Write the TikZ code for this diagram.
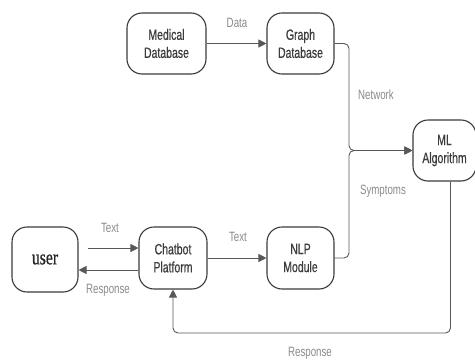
\documentclass[tikz,border=0pt]{standalone}
\usepackage{fontspec}
\usetikzlibrary{arrows.meta,calc}
\newfontfamily\nodefont[FakeStretch=0.70,FakeBold=0.6]{Liberation Sans}
\newfontfamily\labfont[FakeStretch=0.72]{Liberation Sans}
\newfontfamily\userfont[FakeStretch=0.75,FakeBold=0.5]{Liberation Serif}
\definecolor{linec}{HTML}{3A3A3A}
\definecolor{labc}{HTML}{8A8A8A}
\definecolor{txtc}{HTML}{3C3C3C}
\tikzset{
  boxnode/.style={draw=linec, line width=1.1pt, rounded corners=15pt, align=center,
    font=\nodefont\fontsize{15}{18}\selectfont, text=txtc, inner sep=0pt},
  conn/.style={draw=linec!85, line width=0.9pt, rounded corners=5pt},
  arr/.style={-{Triangle[length=8pt,width=8pt]}},
  lab/.style={font=\labfont\fontsize{13.5}{15}\selectfont, text=labc, inner sep=0pt}
}
\begin{document}
\begin{tikzpicture}[x=1pt,y=-1pt]
\useasboundingbox (0,0) rectangle (475,362);
\node[boxnode, minimum width=79pt, minimum height=61pt] (med) at (166.5,43.5) {Medical\\Database};
\node[boxnode, minimum width=67pt, minimum height=61pt] (graph) at (300.5,43.5) {Graph\\Database};
\node[boxnode, minimum width=63pt, minimum height=61pt] (ml) at (444.5,150.5) {ML\\Algorithm};
\node[boxnode, minimum width=66pt, minimum height=65pt, font=\userfont\fontsize{21}{23}\selectfont, text=black!85] (user) at (45,259.5) {user};
\node[boxnode, minimum width=68pt, minimum height=62pt] (chat) at (173,258) {Chatbot\\Platform};
\node[boxnode, minimum width=67pt, minimum height=62pt] (nlp) at (300.5,258) {NLP\\Module};

\coordinate (J) at (349,150.5);
\coordinate (utext) at (88,248);
\coordinate (uresp) at (139,270);
\coordinate (bot) at (450.5,333);

\draw[conn, arr] (med.east) -- (graph.west);
\draw[conn, arr] (graph.east) -| (J) -- (ml.west);
\draw[conn, arr] (nlp.east) -| (J) -- (ml.west);
\draw[conn, arr] (utext) -- (utext -| chat.west);
\draw[conn, arr] (uresp -| chat.west) -- (uresp -| user.east);
\draw[conn, arr] (chat.east) -- (nlp.west);
\draw[conn, arr] (bot |- ml.south) -- (bot) -| (chat.south);

\node[lab] (l1) at (237,23) {Data};
\node[lab] (l2) at (376,95) {Network};
\node[lab] (l3) at (383,191) {Symptoms};
\node[lab] (l4) at (110,228) {Text};
\node[lab] (l5) at (108,290) {Response};
\node[lab] (l6) at (238,237) {Text};
\node[lab] (l7) at (310,353) {Response};
\end{tikzpicture}
\end{document}
